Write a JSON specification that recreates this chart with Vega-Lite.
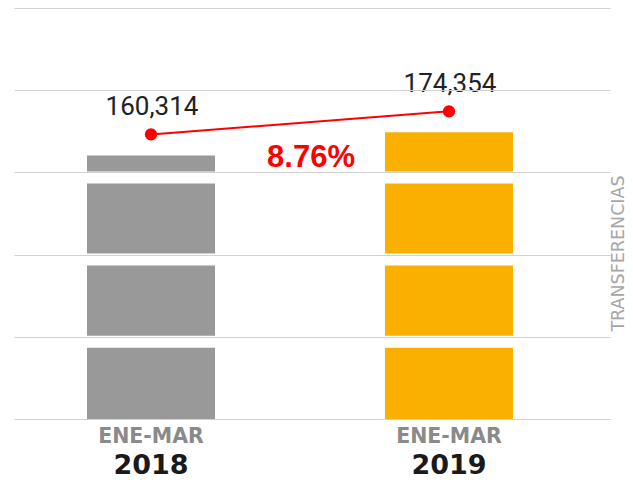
{
  "$schema": "https://vega.github.io/schema/vega-lite/v6.json",
  "width": 582,
  "height": 411,
  "autosize": "none",
  "padding": {"left": 15, "top": 8, "right": 36, "bottom": 65},
  "background": "white",
  "config": {"view": {"stroke": null}},
  "datasets": {
    "barras": [
      {"periodo": "ENE-MAR", "anio": "2018", "transferencias": 160314},
      {"periodo": "ENE-MAR", "anio": "2019", "transferencias": 174354}
    ],
    "bandas": [{"corte": 50000}, {"corte": 100000}, {"corte": 150000}],
    "variacion": [{"texto": "8.76%", "anio": "2018", "ref": 160314}]
  },
  "data": {"name": "barras"},
  "layer": [
    {
      "mark": {"type": "bar", "width": 128},
      "encoding": {
        "x": {"field": "anio", "type": "nominal", "scale": {"type": "band", "range": [-13, 583], "paddingInner": 0, "paddingOuter": 0}, "axis": null},
        "y": {
          "field": "transferencias", "type": "quantitative",
          "scale": {"domain": [0, 250000], "nice": false},
          "axis": {
            "orient": "right", "values": [0, 50000, 100000, 150000, 200000, 250000],
            "grid": true, "gridColor": "#d2d2d2", "gridWidth": 1.2,
            "labels": false, "ticks": false, "domain": false, "zindex": 1,
            "title": "TRANSFERENCIAS", "titleAngle": 270, "titleX": 21, "titleY": 245,
            "titleAlign": "center", "titleBaseline": "middle", "titleLimit": 400,
            "titleFont": "DejaVu Sans", "titleFontWeight": "normal", "titleFontSize": 17.5, "titleColor": "#a6a6a6"
          }
        },
        "color": {"field": "anio", "type": "nominal", "scale": {"range": ["#999999", "#FAB000"]}, "legend": null}
      }
    },
    {
      "data": {"name": "bandas"},
      "mark": {"type": "rule", "color": "white", "strokeWidth": 12, "yOffset": 5},
      "encoding": {
        "y": {"field": "corte", "type": "quantitative"}
      }
    },
    {
      "mark": {"type": "line", "color": "#FF0000", "strokeWidth": 2, "yOffset": -21},
      "encoding": {
        "x": {"field": "anio", "type": "nominal"},
        "y": {"field": "transferencias", "type": "quantitative"}
      }
    },
    {
      "mark": {"type": "circle", "color": "#FF0000", "opacity": 1, "size": 150, "yOffset": -21},
      "encoding": {
        "x": {"field": "anio", "type": "nominal"},
        "y": {"field": "transferencias", "type": "quantitative"}
      }
    },
    {
      "mark": {"type": "text", "font": "Roboto", "fontSize": 26, "color": "#222222", "baseline": "alphabetic", "align": "center", "dy": -40, "dx": 1},
      "encoding": {
        "x": {"field": "anio", "type": "nominal"},
        "y": {"field": "transferencias", "type": "quantitative"},
        "text": {"field": "transferencias", "type": "quantitative", "format": ","}
      }
    },
    {
      "mark": {"type": "text", "font": "DejaVu Sans", "fontWeight": "bold", "fontSize": 20.5, "color": "#8a8a8a", "baseline": "alphabetic", "align": "center", "dy": 24},
      "encoding": {
        "x": {"field": "anio", "type": "nominal"},
        "y": {"datum": 0, "type": "quantitative"},
        "text": {"field": "periodo"}
      }
    },
    {
      "mark": {"type": "text", "font": "DejaVu Sans", "fontWeight": "bold", "fontSize": 27, "color": "#1a1a1a", "baseline": "alphabetic", "align": "center", "dy": 55},
      "encoding": {
        "x": {"field": "anio", "type": "nominal"},
        "y": {"datum": 0, "type": "quantitative"},
        "text": {"field": "anio"}
      }
    },
    {
      "data": {"name": "variacion"},
      "mark": {"type": "text", "font": "Liberation Sans", "fontWeight": "bold", "fontSize": 31, "color": "#FF0000", "baseline": "alphabetic", "align": "center", "dx": 11, "dy": 12},
      "encoding": {
        "x": {"field": "anio", "type": "nominal", "bandPosition": 1},
        "y": {"field": "ref", "type": "quantitative"},
        "text": {"field": "texto"}
      }
    }
  ]
}
